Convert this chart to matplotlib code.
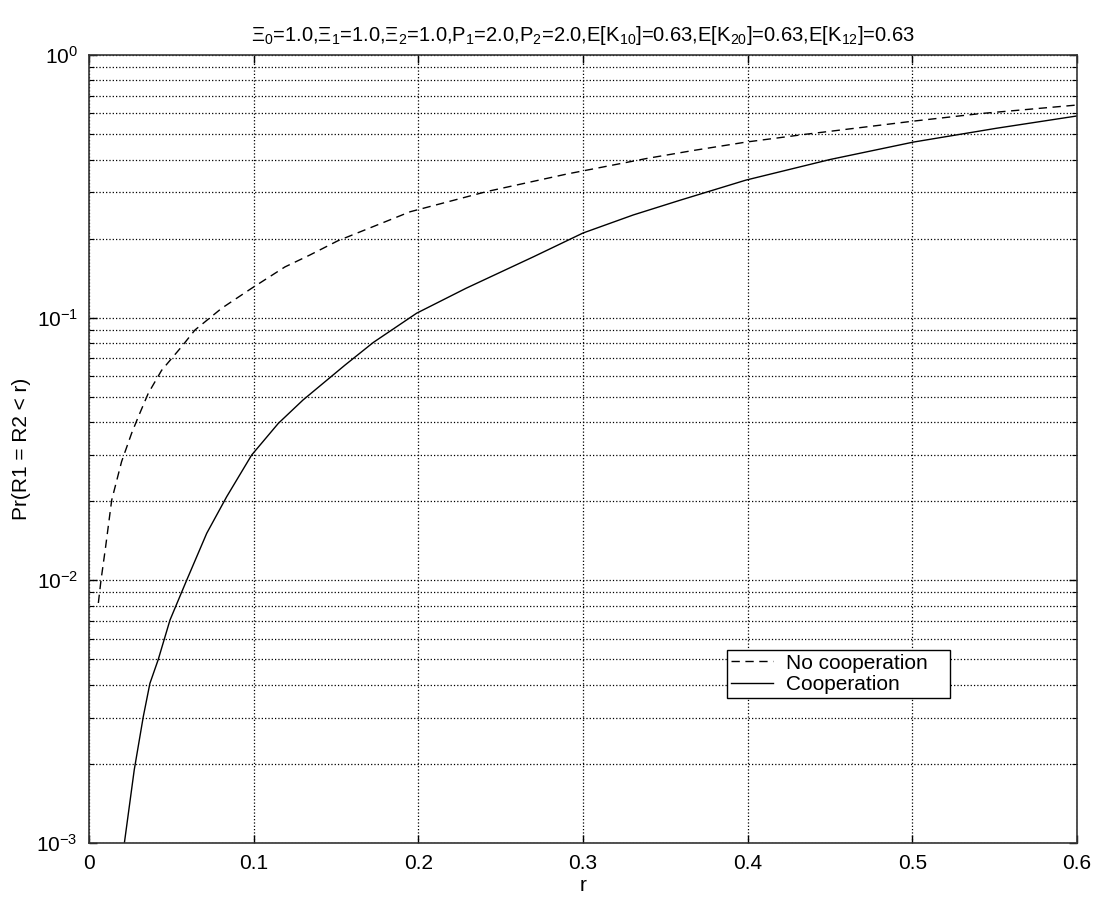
import matplotlib
matplotlib.use("Agg")
import matplotlib.pyplot as plt
from matplotlib.ticker import LogLocator, NullFormatter, FixedLocator

plt.rcParams['font.family'] = ['Liberation Sans', 'DejaVu Sans']
plt.rcParams['mathtext.fontset'] = 'custom'
plt.rcParams['mathtext.rm'] = 'Liberation Sans'
plt.rcParams['mathtext.it'] = 'Liberation Sans'

# No cooperation (dashed)
r_nocoop = [0.0057, 0.0073, 0.0101, 0.0138, 0.0198, 0.0259, 0.030, 0.036, 0.0441,
            0.0563, 0.0644, 0.0806, 0.0988, 0.119, 0.134, 0.151, 0.195, 0.2415,
            0.290, 0.339, 0.367, 0.399, 0.434, 0.480, 0.5006, 0.541, 0.594, 0.600]
p_nocoop = [0.0082, 0.0100, 0.0134, 0.0202, 0.0283, 0.0363, 0.042, 0.0515, 0.063,
            0.0776, 0.0898, 0.1086, 0.1294, 0.156, 0.173, 0.196, 0.253, 0.302,
            0.352, 0.404, 0.433, 0.466, 0.498, 0.540, 0.560, 0.598, 0.640, 0.645]

# Cooperation (solid)
r_coop = [0.0215, 0.0275, 0.033, 0.037, 0.042, 0.0492, 0.0593, 0.0715, 0.0836,
          0.0988, 0.115, 0.130, 0.1555, 0.1727, 0.199, 0.229, 0.270, 0.300,
          0.3305, 0.359, 0.399, 0.450, 0.5006, 0.551, 0.600]
p_coop = [0.0010, 0.0019, 0.00303, 0.00405, 0.00498, 0.00706, 0.0100, 0.0151, 0.0208,
          0.0300, 0.0396, 0.0486, 0.066, 0.0805, 0.104, 0.1294, 0.1706, 0.210,
          0.246, 0.280, 0.334, 0.400, 0.466, 0.526, 0.586]

x_ticks = [0, 0.1, 0.2, 0.3, 0.4, 0.5, 0.6]
x_ticklabels = ['0', '0.1', '0.2', '0.3', '0.4', '0.5', '0.6']

title = (r'$\Xi_0$=1.0,$\Xi_1$=1.0,$\Xi_2$=1.0,P$_1$=2.0,P$_2$=2.0,'
         r'E[K$_{10}$]=0.63,E[K$_{20}$]=0.63,E[K$_{12}$]=0.63')

fig = plt.figure(figsize=(10.97, 8.97), dpi=100)
ax = fig.add_axes([0.0811, 0.0602, 0.9007, 0.8785])

ax.plot(r_nocoop, p_nocoop, color='black', lw=1.0, dashes=(6, 4), label='No cooperation')
ax.plot(r_coop, p_coop, color='black', lw=1.0, label='Cooperation')

ax.set_yscale('log')
ax.set_xlim(0, 0.6)
ax.set_ylim(1e-3, 1)
ax.xaxis.set_major_locator(FixedLocator(x_ticks))
ax.set_xticklabels(x_ticklabels)
ax.yaxis.set_major_locator(LogLocator(base=10, numticks=10))
ax.yaxis.set_minor_locator(LogLocator(base=10, subs=range(2, 10), numticks=20))
ax.yaxis.set_minor_formatter(NullFormatter())

ax.grid(True, which='major', color='black', linestyle=':', linewidth=0.9)
ax.grid(True, which='minor', axis='y', color='black', linestyle=':', linewidth=0.9)

ax.tick_params(which='both', direction='in', top=True, right=True, labelsize=15, colors='black')
ax.tick_params(which='major', length=6, width=1.0, pad=8)
ax.tick_params(which='minor', length=3.5, width=0.8)
for s in ax.spines.values():
    s.set_linewidth(1.2)
    s.set_color('#333333')

ax.set_xlabel('r', fontsize=15, labelpad=2)
ax.set_ylabel('Pr(R1 = R2 < r)', fontsize=15, labelpad=4)
ax.set_title(title, fontsize=14.5, pad=10)

leg = ax.legend(loc='lower left', bbox_to_anchor=(0.646, 0.184, 0.225, 0.071), mode='expand',
                fontsize=15, frameon=True, fancybox=False, edgecolor='black',
                borderaxespad=0, handlelength=2.0, borderpad=0.2, labelspacing=0.1,
                handletextpad=0.6, framealpha=1)
leg.get_frame().set_linewidth(1.0)

fig.savefig('out.png', dpi=100, facecolor='white')
